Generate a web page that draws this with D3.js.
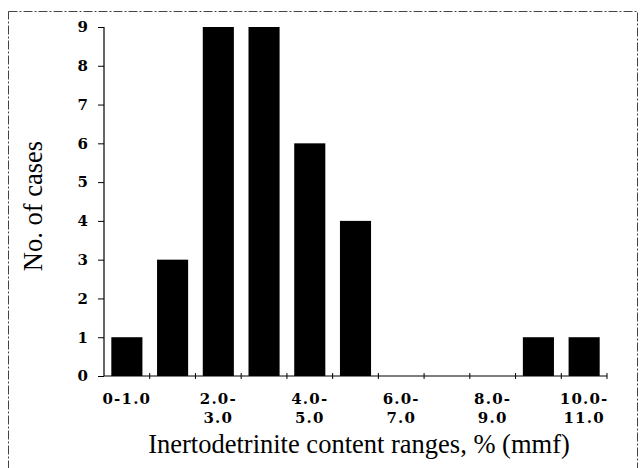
<!DOCTYPE html>
<html>
<head>
<meta charset="utf-8">
<script src="https://cdn.jsdelivr.net/npm/d3@7"></script>
<style>
  body { margin: 0; background: #fff; }
  svg { display: block; }
</style>
</head>
<body>
<div id="chart"></div>
<script>
// inertodetrinite histogram
const categories = ['0-1.0', '1.0-2.0', '2.0-3.0', '3.0-4.0', '4.0-5.0', '5.0-6.0',
                    '6.0-7.0', '7.0-8.0', '8.0-9.0', '9.0-10.0', '10.0-11.0'];
const counts = [1, 3, 9, 9, 6, 4, 0, 0, 0, 1, 1];
// only every other category carries a label (two lines)
const tickLabels = [['0-1.0'], [], ['2.0-', '3.0'], [], ['4.0-', '5.0'], [],
                    ['6.0-', '7.0'], [], ['8.0-', '9.0'], [], ['10.0-', '11.0']];
const yTicks = [0, 1, 2, 3, 4, 5, 6, 7, 8, 9];

const W = 641, H = 468, M = { top: 27, right: 34, bottom: 92, left: 104 };
const iW = W - M.left - M.right;
const iH = H - M.top - M.bottom;
const INK = '#000';
const SERIF = '"Liberation Serif", "DejaVu Serif", serif';
const TICKFONT = '"DejaVu Serif", serif';

const svg = d3.select('#chart').append('svg')
  .attr('width', W).attr('height', H);

// scanned frame
svg.append('rect')
  .attr('x', 8.5).attr('y', 11.5).attr('width', 629).attr('height', 470)
  .attr('fill', 'none').attr('stroke', '#444').attr('stroke-width', 1)
  .attr('stroke-dasharray', '9,2,2,2');

const g = svg.append('g').attr('transform', `translate(${M.left},${M.top})`);

const x = d3.scaleBand().domain(categories).range([0, iW]).paddingInner(0.32).paddingOuter(0.16);
const y = d3.scaleLinear().domain([0, 9]).range([iH, 0]);

// bars
g.selectAll('.bar')
  .data(categories.map((c, i) => ({ c, v: counts[i] })))
  .join('rect')
  .attr('class', 'bar')
  .attr('x', d => x(d.c))
  .attr('width', x.bandwidth())
  .attr('y', d => y(d.v))
  .attr('height', d => iH - y(d.v))
  .attr('fill', INK);

// y axis
g.append('g')
  .call(d3.axisLeft(y).tickValues(yTicks).tickSize(6).tickPadding(10).tickFormat(d3.format('d')))
  .call(ax => ax.select('.domain').attr('stroke', INK).attr('stroke-width', 1.2).attr('d', `M0,${iH}V0`))
  .call(ax => ax.selectAll('line').attr('stroke', INK))
  .call(ax => ax.selectAll('text').attr('fill', INK)
    .attr('font-family', TICKFONT).attr('font-weight', 'bold').attr('font-size', 15));

// x axis
const step = x.step();
const xAxisG = g.append('g').attr('transform', `translate(0,${iH})`);
xAxisG.append('line')
  .attr('x1', 0).attr('x2', iW)
  .attr('stroke', INK).attr('stroke-width', 1.2);
xAxisG.selectAll('.edge')
  .data(d3.range(1, categories.length + 1))
  .join('line')
  .attr('class', 'edge')
  .attr('x1', i => i * step).attr('x2', i => i * step)
  .attr('y1', -3).attr('y2', 3)
  .attr('stroke', INK);

const lbl = xAxisG.selectAll('.xlbl')
  .data(categories.map((c, i) => ({ c, lines: tickLabels[i] })))
  .join('text')
  .attr('class', 'xlbl')
  .attr('text-anchor', 'middle')
  .attr('font-family', TICKFONT).attr('font-weight', 'bold').attr('font-size', 15)
  .attr('letter-spacing', 1.2)
  .attr('fill', INK);
lbl.selectAll('tspan')
  .data(d => d.lines.map(t => ({ t, cx: x(d.c) + x.bandwidth() / 2 })))
  .join('tspan')
  .attr('x', d => d.cx)
  .attr('y', (d, i) => 28 + i * 19)
  .text(d => d.t);

// axis titles
svg.append('text')
  .attr('x', 359).attr('y', 453)
  .attr('text-anchor', 'middle')
  .attr('font-family', SERIF).attr('font-size', 26.5).attr('fill', INK)
  .text('Inertodetrinite content ranges, % (mmf)');
svg.append('text')
  .attr('transform', `translate(42,${206}) rotate(-90)`)
  .attr('text-anchor', 'middle')
  .attr('font-family', SERIF).attr('font-size', 26.5).attr('fill', INK)
  .text('No. of cases');
</script>
</body>
</html>
